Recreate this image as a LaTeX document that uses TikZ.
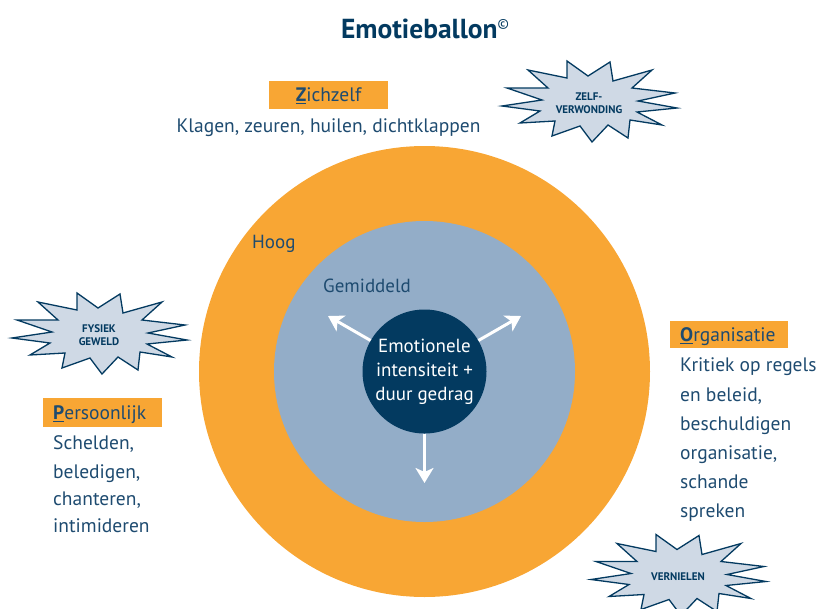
\documentclass[tikz,border=0pt]{standalone}
\usepackage{fontspec}
\setmainfont{PT Sans}
\usetikzlibrary{arrows.meta}
\definecolor{orng}{HTML}{F8A634}
\definecolor{lblue}{HTML}{93ADC8}
\definecolor{navy}{HTML}{033A60}
\definecolor{txt}{HTML}{1E4B70}
\definecolor{burstfill}{HTML}{CFD9E5}
\tikzset{
  body/.style={font=\fontsize{19.5}{22}\selectfont, text=txt, inner sep=0pt, anchor=base west},
  lvl/.style={font=\fontsize{19}{22}\selectfont, text=txt, inner sep=0pt, anchor=base west},
  tagbox/.style={fill=orng, inner sep=0pt},
  tagtext/.style={font=\fontsize{19.5}{22}\selectfont, text=txt, inner sep=0pt},
  burstline/.style={draw=navy, fill=burstfill, line width=1.3pt, line join=miter},
  bursttext/.style={font=\fontsize{11}{13}\selectfont\bfseries, text=navy, align=center, inner sep=0pt},
  outarrow/.style={draw=white, line width=3pt, -{Stealth[length=15pt, width=18pt, inset=4pt]}},
  burst/.pic={
    \path[burstline] (-83,-15) -- (-42,-15) -- (-62,-33) -- (-23,-25) -- (-23,-42)
      -- (-2,-27) -- (20,-41) -- (23,-22) -- (62,-33) -- (42,-15) -- (85,-10)
      -- (48,-2) -- (87,5) -- (47,9) -- (72,22) -- (40,17) -- (38,35) -- (18,22)
      -- (2,39) -- (-10,23) -- (-38,33) -- (-35,18) -- (-70,20) -- (-50,8)
      -- (-88,3) -- (-48,-3) -- cycle;
  }
}
\begin{document}
\begin{tikzpicture}[x=1pt, y=-1pt]
\useasboundingbox (0,0) rectangle (819,608);
\begin{scope}
\clip (0,0) rectangle (819,608);
% circles
\node[circle, fill=orng, minimum size=451pt, inner sep=0pt] (high) at (424.5,371.5) {};
\node[circle, fill=lblue, minimum size=301pt, inner sep=0pt] (mid) at (424.5,371.5) {};
\node[circle, fill=navy, minimum size=124pt, inner sep=0pt, text=white, align=center,
      font=\fontsize{19}{24}\selectfont] (core) at (424.5,371.5)
      {Emotionele\\intensiteit +\\duur gedrag};
% arrows
\coordinate (t1) at (328,316);
\coordinate (t2) at (521,316);
\coordinate (t3) at (424.5,483);
\draw[outarrow] (core) -- (t1);
\draw[outarrow] (core) -- (t2);
\draw[outarrow] (core) -- (t3);
% level labels
\node[lvl] (hoog) at (252,248.5) {Hoog};
\node[lvl] (gem) at (323,292.5) {Gemiddeld};
% bursts
\pic at (590,103) {burst};
\node[bursttext] (zelf) at (589,103) {ZELF-\\VERWONDING};
\pic at (100,335) {burst};
\node[bursttext] (fysiek) at (99,335) {FYSIEK\\GEWELD};
\pic at (679,576.5) {burst};
\node[bursttext] (vern) at (678,576.5) {VERNIELEN};
\end{scope}
% title
\node[font=\fontsize{27.5}{32}\selectfont\bfseries, text=navy, inner sep=0pt, anchor=base] (title) at (425,38)
  {Emotieballon{\fontsize{14}{14}\mdseries\selectfont\raisebox{10pt}{\textcopyright}}};
% Zichzelf
\node[tagbox, minimum width=119pt, minimum height=28pt] (zbox) at (328.5,95) {};
\node[tagtext, anchor=base] (ztext) at (328.5,101.5) {\underline{\textbf{Z}}ichzelf};
\node[tagtext, anchor=base] (zbody) at (328.5,132.5) {Klagen, zeuren, huilen, dichtklappen};
% Persoonlijk
\node[tagbox, minimum width=119pt, minimum height=29pt] (pbox) at (102.5,412.5) {};
\node[body] (ptext) at (53,419.5) {\underline{\textbf{P}}ersoonlijk};
\node[body] (p1) at (53,449.5) {Schelden,};
\node[body] (p2) at (53,478) {beledigen,};
\node[body] (p3) at (53,505.5) {chanteren,};
\node[body] (p4) at (53,532.5) {intimideren};
% Organisatie
\node[tagbox, minimum width=118pt, minimum height=27pt] (obox) at (729,334.5) {};
\node[body] (otext) at (680,341.5) {\underline{\textbf{O}}rganisatie};
\node[body] (o1) at (680,371.5) {Kritiek op regels};
\node[body] (o2) at (680,401) {en beleid,};
\node[body] (o3) at (680,430) {beschuldigen};
\node[body] (o4) at (680,459.5) {organisatie,};
\node[body] (o5) at (680,488.5) {schande};
\node[body] (o6) at (680,517) {spreken};
\end{tikzpicture}
\end{document}
